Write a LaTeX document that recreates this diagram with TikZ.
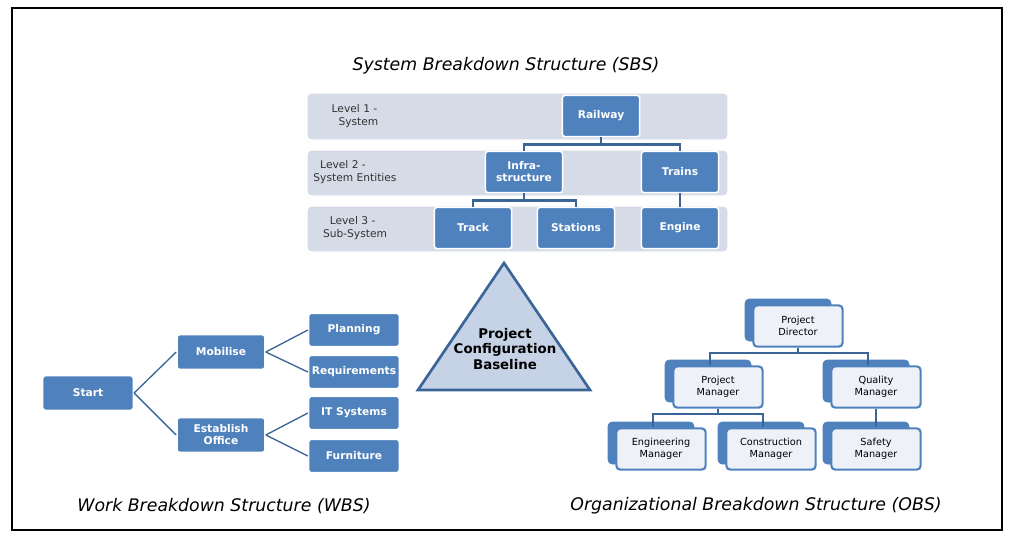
\documentclass[tikz,border=0pt]{standalone}
\usepackage{fontspec}
\setmainfont{DejaVu Sans}
\usetikzlibrary{positioning}
\definecolor{boxblue}{HTML}{4F81BD}
\definecolor{bandgray}{HTML}{D5DCE7}
\definecolor{edgeblue}{HTML}{3B6597}
\definecolor{tribg}{HTML}{C6D2E6}
\definecolor{obsfill}{HTML}{EEF2F8}
\tikzset{
  blue box/.style={shape=rectangle, rounded corners=2pt, fill=boxblue, draw=white, line width=1.2pt,
    text=white, font=\fontsize{8}{9}\selectfont\bfseries, align=center, inner sep=1pt},
  band/.style={rounded corners=3pt, fill=bandgray, draw=white, line width=1pt},
  level/.style={font=\fontsize{8}{9.5}\selectfont, text=black!80, align=left},
  obs box/.style={shape=rectangle, rounded corners=3pt, fill=obsfill, draw=boxblue, line width=1.6pt,
    font=\fontsize{7.3}{8.8}\selectfont, align=center, minimum width=67pt, minimum height=31pt},
  obs back/.style={rounded corners=3pt, fill=boxblue, draw=boxblue},
  title/.style={font=\fontsize{13}{15}\selectfont\itshape},
  link/.style={draw=edgeblue, line width=1.6pt},
  wlink/.style={draw=edgeblue, line width=1pt}
}
\begin{document}
\begin{tikzpicture}[x=0.75pt,y=-0.75pt]
%%%%%%%%%%%%%%%%%%%%%%%%%%%%%%%%%%%%%%%%%%% frame
\useasboundingbox (0,0) rectangle (1024,536);
\draw[line width=0.8pt] (12,8) rectangle (1002,530);

%%%%%%%%%%%%%%%%%%%%%%%%%%%%%%%%%%%%%%%%%%% SBS
\node[title](sbs) at (506,66){System Breakdown Structure (SBS)};
\draw[band] (307,93) rectangle (728,140);
\draw[band] (307,150) rectangle (728,196);
\draw[band] (307,206) rectangle (728,252);
\node[level](l1) at (355,116){Level 1 -\\\ \ System};
\node[level](l2) at (355,172){\ \ Level 2 -\\System Entities};
\node[level](l3) at (355,228){\ \ Level 3 -\\Sub-System};

\node[blue box, minimum width=58pt, minimum height=31pt](rail) at (601,116){Railway};
\node[blue box, minimum width=58pt, minimum height=31pt](infra) at (524,172){Infra-\\structure};
\node[blue box, minimum width=58pt, minimum height=31pt](trains) at (680,172){Trains};
\node[blue box, minimum width=58pt, minimum height=31pt](track) at (473,228){Track};
\node[blue box, minimum width=58pt, minimum height=31pt](stat) at (576,228){Stations};
\node[blue box, minimum width=58pt, minimum height=31pt](eng) at (680,228){Engine};

\draw[link] (rail.south) -- ++(0,7) -| (infra.north);
\draw[link] (rail.south) -- ++(0,7) -| (trains.north);
\draw[link] (infra.south) -- ++(0,7) -| (track.north);
\draw[link] (infra.south) -- ++(0,7) -| (stat.north);
\draw[link] (trains) -- (eng);

%%%%%%%%%%%%%%%%%%%%%%%%%%%%%%%%%%%%%%%%%%% baseline
\draw[fill=tribg, draw=edgeblue, line width=2pt] (504,263) -- (590,390) -- (418,390) -- cycle;
\node[font=\fontsize{10}{11.5}\selectfont\bfseries, align=center](pcb) at (505,349){Project\\Configuration\\Baseline};

%%%%%%%%%%%%%%%%%%%%%%%%%%%%%%%%%%%%%%%%%%% WBS
\node[title](wbs) at (224,506){Work Breakdown Structure (WBS)};
\node[blue box, minimum width=68pt, minimum height=26pt](start) at (88,393){Start};
\node[blue box, minimum width=66pt, minimum height=26pt](mob) at (221,352){Mobilise};
\node[blue box, minimum width=66pt, minimum height=26pt](est) at (221,435){Establish\\Office};
\node[blue box, minimum width=68pt, minimum height=25pt](plan) at (354,330){Planning};
\node[blue box, minimum width=68pt, minimum height=25pt](req) at (354,372){Requirements};
\node[blue box, minimum width=68pt, minimum height=25pt](its) at (354,413){IT Systems};
\node[blue box, minimum width=68pt, minimum height=25pt](furn) at (354,456){Furniture};
\draw[wlink] (start.east) -- (mob.west);
\draw[wlink] (start.east) -- (est.west);
\draw[wlink] (mob.east) -- (plan.west);
\draw[wlink] (mob.east) -- (req.west);
\draw[wlink] (est.east) -- (its.west);
\draw[wlink] (est.east) -- (furn.west);

%%%%%%%%%%%%%%%%%%%%%%%%%%%%%%%%%%%%%%%%%%% OBS
\node[title](obs) at (756,506){Organizational Breakdown Structure (OBS)};
\foreach \n/\x/\y/\t in {dir/798/326/{Project\\Director}, pm/718/387/{Project\\Manager},
    qm/876/387/{Quality\\Manager}, em/661/449/{Engineering\\Manager},
    cm/771/449/{Construction\\Manager}, sm/876/449/{Safety\\Manager}}{
  \fill[obs back] (\x-53,\y-27) rectangle (\x+33,\y+15);
  \node[obs box](\n) at (\x,\y){\t};
}
\draw[link] (dir.south) -- ++(0,5) -| ([xshift=-6pt]pm.north);
\draw[link] (dir.south) -- ++(0,5) -| ([xshift=-6pt]qm.north);
\draw[link] (pm.south) -- ++(0,5) -| ([xshift=-6pt]em.north);
\draw[link] (pm.south) -- ++(0,5) -| ([xshift=-6pt]cm.north);
\draw[link] (qm) -- (sm);
\end{tikzpicture}
\end{document}
